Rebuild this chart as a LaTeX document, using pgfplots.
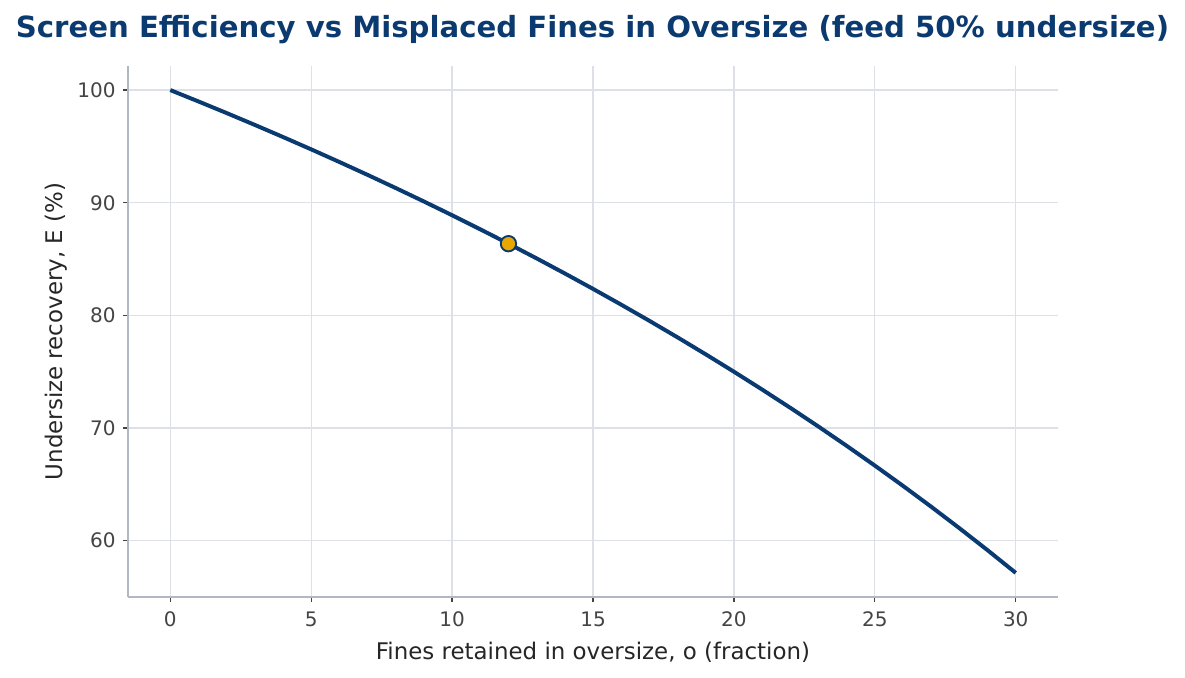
\documentclass[border=0pt]{standalone}
\usepackage{pgfplots}
\pgfplotsset{compat=1.18}
\usepackage{fontspec}
\setmainfont{DejaVu Sans}
\definecolor{titleblue}{HTML}{0B3A70}
\definecolor{lineblue}{HTML}{0A3A72}
\definecolor{markorange}{HTML}{E8A800}
\definecolor{spinegray}{HTML}{B0B8C2}
\definecolor{gridgray}{HTML}{DDE1E7}
\definecolor{ticktext}{HTML}{444444}
\begin{document}
\begin{tikzpicture}
\useasboundingbox (0,0) rectangle (568.8pt,325pt);
\node[font=\fontsize{14.0}{16}\selectfont\bfseries, text=titleblue] at (284.4pt,310.9pt) {Screen Efficiency vs Misplaced Fines in Oversize (feed 50\% undersize)};
\begin{axis}[
  at={(61.44pt,38.44pt)}, anchor=south west,
  scale only axis, width=446.4pt, height=254.9pt,
  xmin=-1.5, xmax=31.5, ymin=55.0, ymax=102.14,
  axis lines*=left,
  axis line style={spinegray, line width=0.8pt},
  xtick={0,5,...,30}, ytick={60,70,80,90,100},
  grid=major, grid style={gridgray, line width=0.6pt},
  tick style={ticktext, line width=0.6pt},
  tick align=outside, major tick length=2.4pt,
  tick label style={font=\fontsize{9.6}{11}\selectfont, text=ticktext},
  xticklabel style={yshift=-1pt},
  /pgf/number format/assume math mode=true,
  xlabel={Fines retained in oversize, o (fraction)},
  ylabel={Undersize recovery, E (\%)},
  label style={font=\fontsize{11.0}{12}\selectfont, text=black!85},
  xlabel style={yshift=-0.8pt},
  ylabel style={yshift=-2pt},
  clip=false,
]
\addplot[lineblue, line width=1.9pt, no markers] coordinates {
(0,100) (1,98.990) (2,97.959) (3,96.907) (4,95.833) (5,94.737) (6,93.617) (7,92.473) (8,91.304) (9,90.110) (10,88.889) (11,87.640) (12,86.364) (13,85.057) (14,83.721) (15,82.353) (16,80.952) (17,79.518) (18,78.049) (19,76.543) (20,75.000) (21,73.418) (22,71.795) (23,70.130) (24,68.421) (25,66.667) (26,64.865) (27,63.014) (28,61.111) (29,59.155) (30,57.143)
};
\addplot[only marks, mark=*, mark size=3.7pt, mark options={fill=markorange, draw=lineblue, line width=0.9pt}] coordinates {(12,86.364)};
\end{axis}
\end{tikzpicture}
\end{document}
